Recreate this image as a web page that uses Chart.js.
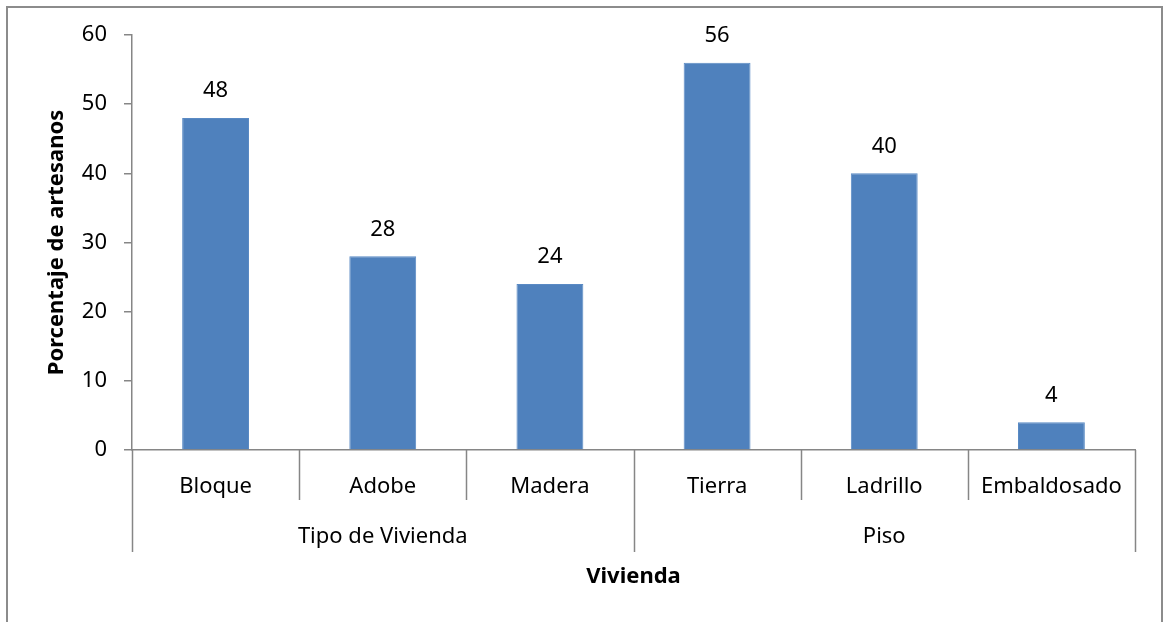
<!DOCTYPE html>
<html>
<head>
<meta charset="utf-8">
<script src="https://cdn.jsdelivr.net/npm/chart.js@4"></script>
<style>
  html, body { margin: 0; padding: 0; background: #fff; }
  #wrap { position: relative; width: 1167px; height: 622px; }
</style>
</head>
<body>
<div id="wrap"><canvas id="chart" width="1167" height="622"></canvas></div>
<script>
// Datos del gráfico
const categorias = ['Bloque', 'Adobe', 'Madera', 'Tierra', 'Ladrillo', 'Embaldosado'];
const porcentajes = [48, 28, 24, 56, 40, 4];
const grupos = ['Tipo de Vivienda', 'Piso'];
const tamanosGrupo = [3, 3];
const yTicks = [0, 10, 20, 30, 40, 50, 60];

const FONT = 'Noto Sans';
const TAM = 22;
const GRIS = '#868686';

// Borde exterior del gráfico
const bordePlugin = {
    id: 'borde',
    afterDraw(chart) {
        const ctx = chart.ctx;
        ctx.save();
        ctx.strokeStyle = '#8c8c8c';
        ctx.lineWidth = 2;
        ctx.strokeRect(7, 7, 1155, 700);
        ctx.restore();
    }
};

// Etiquetas de datos sobre las barras
const etiquetasPlugin = {
    id: 'etiquetas',
    afterDatasetsDraw(chart) {
        const ctx = chart.ctx;
        const meta = chart.getDatasetMeta(0);
        ctx.save();
        ctx.font = TAM + 'px "' + FONT + '"';
        ctx.fillStyle = '#000';
        ctx.textAlign = 'center';
        ctx.textBaseline = 'middle';
        meta.data.forEach((bar, i) => {
            ctx.fillText(String(porcentajes[i]), bar.x, bar.y - 27);
        });
        ctx.restore();
    }
};

// Eje de categorías con dos niveles
const ejeMultinivelPlugin = {
    id: 'ejeMultinivel',
    afterDraw(chart) {
        const ctx = chart.ctx;
        const x = chart.scales.x;
        const y0 = chart.scales.y.getPixelForValue(0);
        const n = categorias.length;
        const limites = [];
        for (let i = 0; i <= n; i++) {
            if (i === 0) limites.push(x.left);
            else if (i === n) limites.push(x.right);
            else limites.push((x.getPixelForValue(i - 1) + x.getPixelForValue(i)) / 2);
        }
        const bordesGrupo = [0];
        tamanosGrupo.forEach(t => bordesGrupo.push(bordesGrupo[bordesGrupo.length - 1] + t));

        ctx.save();
        ctx.strokeStyle = GRIS;
        ctx.lineWidth = 1.5;
        limites.forEach((px, i) => {
            const largo = bordesGrupo.includes(i) ? 102 : 50;
            ctx.beginPath();
            ctx.moveTo(Math.round(px) + 0.5, y0);
            ctx.lineTo(Math.round(px) + 0.5, y0 + largo);
            ctx.stroke();
        });

        ctx.font = TAM + 'px "' + FONT + '"';
        ctx.fillStyle = '#000';
        ctx.textAlign = 'center';
        ctx.textBaseline = 'middle';
        grupos.forEach((g, k) => {
            const a = limites[bordesGrupo[k]];
            const b = limites[bordesGrupo[k + 1]];
            ctx.fillText(g, (a + b) / 2, y0 + 87);
        });
        ctx.restore();
    }
};

const ctx = document.getElementById('chart').getContext('2d');
new Chart(ctx, {
    type: 'bar',
    data: {
        labels: categorias,
        datasets: [{
            data: porcentajes,
            backgroundColor: '#4F81BD',
            borderColor: '#5a8ac4',
            borderWidth: 1,
            barPercentage: 0.4,
            categoryPercentage: 1
        }]
    },
    options: {
        responsive: false,
        animation: false,
        layout: { padding: { top: 35, right: 32, left: 0, bottom: 0 } },
        plugins: {
            legend: { display: false },
            tooltip: { enabled: false }
        },
        scales: {
            x: {
                afterFit(scale) { scale.height = 172; },
                grid: { display: false, drawTicks: false },
                border: { color: GRIS, width: 1.5 },
                ticks: {
                    color: '#000',
                    padding: 24,
                    font: { family: FONT, size: TAM }
                },
                title: {
                    display: true,
                    text: 'Vivienda',
                    color: '#000',
                    font: { family: FONT, size: TAM, weight: 'bold' },
                    padding: { top: 0, bottom: 32 }
                }
            },
            y: {
                min: 0,
                max: 60,
                afterFit(scale) { scale.width = 132; },
                afterBuildTicks(scale) { scale.ticks = yTicks.map(v => ({ value: v })); },
                grid: {
                    drawOnChartArea: false,
                    drawTicks: true,
                    tickLength: 8,
                    color: GRIS,
                    lineWidth: 1.5
                },
                border: { color: GRIS, width: 1.5 },
                ticks: {
                    color: '#000',
                    padding: 17,
                    font: { family: FONT, size: TAM }
                },
                title: {
                    display: true,
                    text: 'Porcentaje de artesanos',
                    color: '#000',
                    font: { family: FONT, size: TAM, weight: 'bold' },
                    padding: { top: 44, bottom: 0 }
                }
            }
        }
    },
    plugins: [bordePlugin, etiquetasPlugin, ejeMultinivelPlugin]
});
</script>
</body>
</html>
